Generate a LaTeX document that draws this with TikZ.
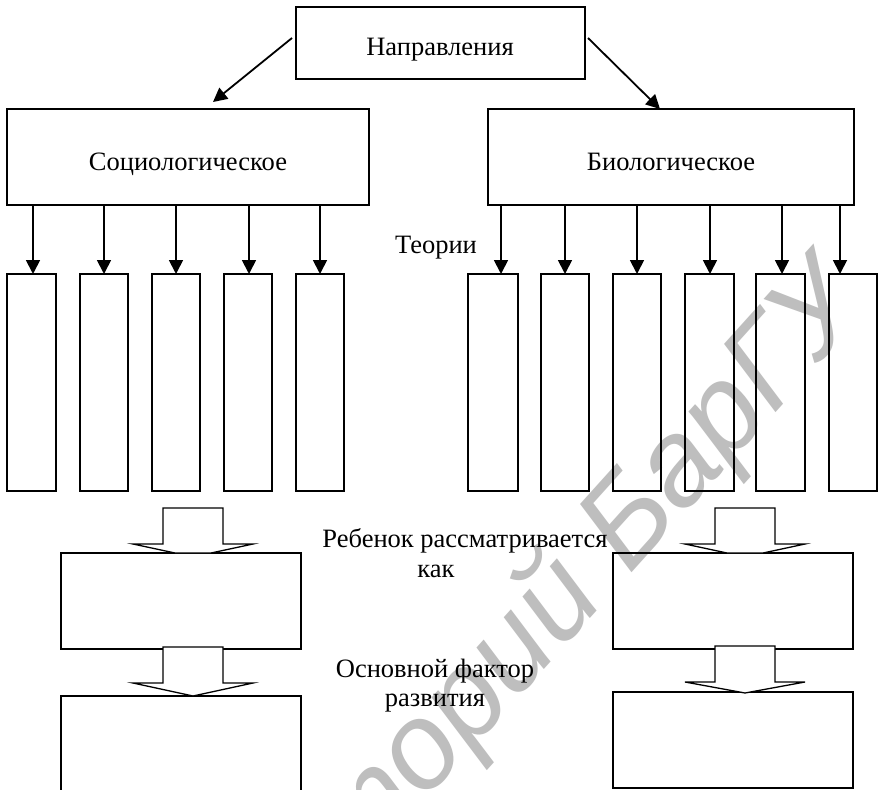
\documentclass[tikz,border=0pt]{standalone}
\usepackage{fontspec}
\setmainfont{Liberation Serif}
\newfontfamily\wmfont{Liberation Sans}
\usetikzlibrary{arrows.meta}
\definecolor{wmgray}{RGB}{190,190,190}
\begin{document}
\begin{tikzpicture}[x=1pt,y=-1pt,
  frame/.style={draw, line width=1.3pt, anchor=north west, inner sep=0pt, outer sep=0pt},
  arr/.style={line width=1.8pt, -{Triangle[length=14pt,width=14pt]}},
  lbl/.style={font=\fontsize{26.5}{30}\selectfont, anchor=base, inner sep=0pt},
  blk/.style={draw, line width=1.3pt, fill=white, line join=miter}]
\clip (0,0) rectangle (879,790);
\fill[white] (0,0) rectangle (879,790);
% watermark
\node[rotate=48, anchor=base, text=wmgray, inner sep=0pt,
      font=\wmfont\itshape\fontsize{122}{122}\selectfont] (wmk) at (478,743) {Репозиторий БарГУ};
% main boxes
\node[frame, minimum width=289pt, minimum height=72pt] (top) at (296,7) {};
\node[frame, minimum width=362pt, minimum height=96pt] (soc) at (7,109) {};
\node[frame, minimum width=366pt, minimum height=96pt] (bio) at (488,109) {};
% small boxes
\foreach \n/\x/\w in {s1/7/49, s2/80/48, s3/152/48, s4/224/48, s5/296/48,
                      r1/468/50, r2/541/48, r3/613/48, r4/685/49, r5/756/49, r6/829/48}
  \node[frame, minimum width=\w pt, minimum height=217pt] (\n) at (\x,274) {};
% lower boxes
\node[frame, minimum width=240pt, minimum height=96pt] (l1) at (61,553) {};
\node[frame, minimum width=240pt, minimum height=120pt] (l2) at (61,696) {};
\node[frame, minimum width=240pt, minimum height=96pt] (b1) at (613,553) {};
\node[frame, minimum width=240pt, minimum height=96pt] (b2) at (613,692) {};
% labels
\node[lbl] (tNapr) at (440,55) {Направления};
\node[lbl] (tSoc) at (188,170) {Социологическое};
\node[lbl] (tBio) at (671,170) {Биологическое};
\node[lbl] (tTeor) at (436,253) {Теории};
\node[lbl] (tReb) at (465,547) {Ребенок рассматривается};
\node[lbl] (tKak) at (436,577) {как};
\node[lbl] (tOsn) at (435,677) {Основной фактор};
\node[lbl] (tRaz) at (435,706) {развития};
% diagonal arrows
\coordinate (aLs) at (292,38);
\coordinate (aLe) at (213,102);
\coordinate (aRs) at (588,38);
\coordinate (aRe) at (660,109);
\draw[arr] (aLs) -- (aLe);
\draw[arr] (aRs) -- (aRe);
% theory arrows
\foreach \n/\x in {s1/33, s2/104, s3/176, s4/249, s5/320} {
  \coordinate (c\n) at (\x,0);
  \draw[arr] (soc.south -| c\n) -- (\n.north -| c\n);
}
\foreach \n/\x in {r1/501, r2/565, r3/637, r4/710, r5/782, r6/840} {
  \coordinate (c\n) at (\x,0);
  \draw[arr] (bio.south -| c\n) -- (\n.north -| c\n);
}
% block arrows
\draw[blk] (163,508) -- (223,508) -- (223,544) -- (253,544) -- (211,553) -- (175,553) -- (133,544) -- (163,544) -- cycle;
\draw[blk] (163,647) -- (223,647) -- (223,683) -- (253,683) -- (193,696) -- (133,683) -- (163,683) -- cycle;
\draw[blk] (715,508) -- (775,508) -- (775,544) -- (805,544) -- (763,553) -- (727,553) -- (685,544) -- (715,544) -- cycle;
\draw[blk] (715,646) -- (775,646) -- (775,682) -- (805,682) -- (745,693) -- (685,682) -- (715,682) -- cycle;
\end{tikzpicture}
\end{document}
